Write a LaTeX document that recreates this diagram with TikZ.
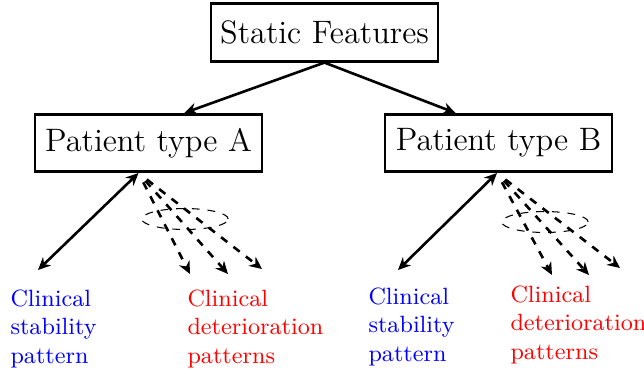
\documentclass[tikz,border=0pt]{standalone}
\usetikzlibrary{arrows.meta,shapes.geometric}
\begin{document}
\begin{tikzpicture}[x=0.3824pt,y=-0.3824pt,
  box/.style={draw,line width=1pt,inner sep=0pt,font=\fontsize{12.4}{15}\selectfont,minimum width=86.8pt,minimum height=22pt},
  lab/.style={anchor=north west,inner sep=0pt,align=left,font=\small},
  tip/.tip={Stealth[length=4.8pt,width=4.4pt]},
  arr/.style={line width=1pt,-tip},
  darr/.style={arr,dashed,shorten <=4pt},
  ell/.style={draw,dashed,line width=0.4pt,ellipse,minimum width=33pt,minimum height=8pt,inner sep=0pt}]
\useasboundingbox (0,0) rectangle (644,377);
\node[box] (sf) at (324.5,32.5) {Static Features};
\node[box] (pa) at (148.5,143) {Patient type A};
\node[box] (pb) at (498.5,143) {Patient type B};
\node[lab,text=blue] (sa) at (10,289) {Clinical\\stability\\pattern};
\node[lab,text=red] (da) at (187,289) {Clinical\\deterioration\\patterns};
\node[lab,text=blue] (sb) at (368,287) {Clinical\\stability\\pattern};
\node[lab,text=red] (db) at (510,285) {Clinical\\deterioration\\patterns};
\draw[arr] (sf.south) -- (pa.40);
\draw[arr] (sf.south) -- (pb.145);
% patient A
\coordinate (a0) at (138.5,173);
\coordinate (a1) at (38,270);
\coordinate (a2) at (190,274);
\coordinate (a3) at (228,274);
\coordinate (a4) at (262,269);
\draw[arr,tip-tip] (a0) -- (a1);
\draw[darr] (a0) -- (a2);
\draw[darr] (a0) -- (a3);
\draw[darr] (a0) -- (a4);
\node[ell] (ea) at (185,219) {};
% patient B
\coordinate (b0) at (497,173);
\coordinate (b1) at (398,270);
\coordinate (b2) at (552,275);
\coordinate (b3) at (589,275);
\coordinate (b4) at (620,268);
\draw[arr,tip-tip] (b0) -- (b1);
\draw[darr] (b0) -- (b2);
\draw[darr] (b0) -- (b3);
\draw[darr] (b0) -- (b4);
\node[ell] (eb) at (545,222) {};
\end{tikzpicture}
\end{document}
